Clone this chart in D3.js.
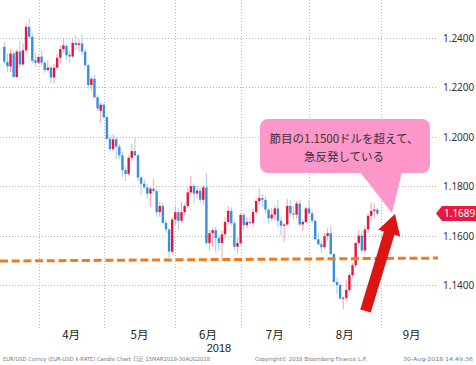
<!DOCTYPE html>
<html><head><meta charset="utf-8">
<script src="https://cdn.jsdelivr.net/npm/d3@7/dist/d3.min.js"></script>
<style>html,body{margin:0;padding:0;background:#fff;}svg{display:block;}</style>
</head><body>
<svg id="chart" width="476" height="365"></svg>
<script>
// ---------- data ----------
const firstDate = "2018-03-15";   // first candle (weekdays only)
const axisEndDate = "2018-09-30"; // calendar used for month gridlines
const open  = [1.2364,1.2303,1.2285,1.2337,1.2242,1.2345,1.2293,1.2350,1.2445,1.2405,1.2310,1.2300,
  1.2325,1.2300,1.2270,1.2280,1.2240,1.2280,1.2320,1.2355,1.2368,1.2332,1.2325,1.2380,1.2372,1.2378,1.2345,1.2290,1.2210,1.2235,1.2160,1.2105,1.2130,
  1.2080,1.1992,1.1950,1.1990,1.1960,1.1925,1.1865,1.1850,1.1915,1.1942,1.1925,1.1835,1.1810,1.1795,1.1770,1.1790,1.1780,1.1695,1.1720,1.1652,1.1625,1.1535,1.1665,
  1.1695,1.1660,1.1695,1.1720,1.1775,1.1800,1.1770,1.1782,1.1745,1.1795,1.1570,1.1610,1.1622,1.1590,1.1570,1.1605,1.1655,1.1700,1.1650,1.1555,1.1570,
  1.1684,1.1642,1.1655,1.1650,1.1695,1.1740,1.1752,1.1745,1.1705,1.1670,1.1685,1.1710,1.1660,1.1640,1.1645,1.1720,1.1690,1.1685,1.1730,1.1645,1.1655,1.1710,
  1.1690,1.1660,1.1585,1.1565,1.1553,1.1598,1.1610,1.1525,1.1412,1.1400,1.1345,1.1348,1.1380,1.1440,1.1480,1.1570,1.1600,1.1540,1.1625,1.1680,1.1700,1.1705];
const high  = [1.2385,1.2336,1.2355,1.2350,1.2355,1.2388,1.2380,1.2460,1.2478,1.2420,1.2340,1.2330,
  1.2350,1.2305,1.2310,1.2288,1.2295,1.2335,1.2370,1.2396,1.2375,1.2345,1.2395,1.2410,1.2395,1.2415,1.2355,1.2295,1.2245,1.2250,1.2170,1.2140,1.2135,
  1.2085,1.2010,1.2010,1.2000,1.1970,1.1940,1.1880,1.1925,1.1970,1.1995,1.1930,1.1840,1.1830,1.1810,1.1800,1.1830,1.1790,1.1735,1.1735,1.1665,1.1630,1.1675,1.1720,
  1.1710,1.1735,1.1730,1.1795,1.1840,1.1810,1.1800,1.1795,1.1805,1.1852,1.1625,1.1630,1.1635,1.1600,1.1620,1.1675,1.1720,1.1715,1.1660,1.1590,1.1690,
  1.1690,1.1675,1.1675,1.1710,1.1750,1.1791,1.1770,1.1760,1.1710,1.1710,1.1720,1.1745,1.1675,1.1650,1.1750,1.1745,1.1720,1.1740,1.1745,1.1665,1.1720,1.1745,
  1.1705,1.1665,1.1610,1.1580,1.1610,1.1630,1.1640,1.1530,1.1432,1.1410,1.1355,1.1420,1.1450,1.1490,1.1575,1.1623,1.1620,1.1640,1.1690,1.1733,1.1730,1.1712];
const low   = [1.2297,1.2262,1.2262,1.2240,1.2240,1.2280,1.2288,1.2345,1.2395,1.2298,1.2285,1.2295,
  1.2290,1.2258,1.2265,1.2218,1.2215,1.2270,1.2300,1.2340,1.2310,1.2300,1.2320,1.2350,1.2345,1.2330,1.2280,1.2195,1.2185,1.2155,1.2105,1.2055,1.2070,
  1.1985,1.1940,1.1940,1.1910,1.1910,1.1838,1.1822,1.1840,1.1900,1.1920,1.1820,1.1765,1.1790,1.1750,1.1717,1.1770,1.1676,1.1675,1.1645,1.1610,1.1510,1.1525,1.1640,
  1.1625,1.1650,1.1680,1.1710,1.1765,1.1730,1.1750,1.1730,1.1725,1.1562,1.1540,1.1555,1.1530,1.1540,1.1508,1.1590,1.1640,1.1640,1.1540,1.1527,1.1560,
  1.1620,1.1630,1.1640,1.1635,1.1685,1.1725,1.1715,1.1690,1.1650,1.1660,1.1665,1.1635,1.1600,1.1575,1.1640,1.1675,1.1665,1.1670,1.1640,1.1620,1.1650,1.1685,
  1.1650,1.1580,1.1560,1.1530,1.1545,1.1580,1.1525,1.1410,1.1365,1.1340,1.1301,1.1335,1.1370,1.1430,1.1470,1.1560,1.1530,1.1530,1.1610,1.1660,1.1670,1.1680];
const close = [1.2304,1.2285,1.2337,1.2242,1.2345,1.2293,1.2350,1.2445,1.2405,1.2308,1.2300,1.2323,
  1.2300,1.2270,1.2280,1.2240,1.2280,1.2320,1.2355,1.2370,1.2330,1.2325,1.2380,1.2372,1.2378,1.2345,1.2290,1.2210,1.2235,1.2160,1.2115,1.2130,1.2080,
  1.1992,1.1950,1.1990,1.1960,1.1925,1.1865,1.1850,1.1915,1.1942,1.1925,1.1835,1.1810,1.1795,1.1770,1.1790,1.1780,1.1695,1.1720,1.1652,1.1625,1.1535,1.1665,1.1695,
  1.1660,1.1695,1.1720,1.1775,1.1800,1.1770,1.1782,1.1745,1.1795,1.1570,1.1610,1.1622,1.1590,1.1570,1.1605,1.1655,1.1700,1.1650,1.1555,1.1570,1.1684,
  1.1642,1.1655,1.1650,1.1695,1.1740,1.1752,1.1745,1.1705,1.1670,1.1685,1.1710,1.1660,1.1640,1.1645,1.1720,1.1690,1.1685,1.1730,1.1645,1.1655,1.1710,1.1690,
  1.1660,1.1585,1.1565,1.1553,1.1598,1.1610,1.1525,1.1412,1.1400,1.1345,1.1348,1.1380,1.1440,1.1480,1.1570,1.1600,1.1540,1.1625,1.1680,1.1700,1.1705,1.1689];
const yTicks = [1.14, 1.16, 1.18, 1.20, 1.22, 1.24];
const monthLabels = ["4月","5月","6月","7月","8月","9月"];
const yearLabel = "2018";
const lastPrice = 1.1689;
const supportLevel = [1.1497, 1.1509];   // dashed line, start/end value
const calloutLines = ["節目の1.1500ドルを超えて、", "急反発している"];
const footerTexts = ["EUR/USD Curncy (EUR-USD X-RATE) Candle Chart  日足 15MAR2018-30AUG2018",
  "Copyright© 2018 Bloomberg Finance L.P.", "30-Aug-2018 14:49:36"];

// ---------- calendar ----------
const parse = d3.timeParse("%Y-%m-%d");
const weekdays = d3.timeDays(parse(firstDate), d3.timeDay.offset(parse(axisEndDate), 1))
  .filter(d => d.getDay() !== 0 && d.getDay() !== 6);
const N = open.length;
const candles = d3.range(N).map(i => ({i, date: weekdays[i], o: open[i], h: high[i], l: low[i], c: close[i]}));
// gridlines on the last weekday of each month
const monthEnds = [];
weekdays.forEach((d, i) => {
  const nx = weekdays[i + 1];
  if (!nx || nx.getMonth() !== d.getMonth()) monthEnds.push(i);
});

// ---------- scales ----------
const x = d3.scaleLinear().domain([0, N - 1]).range([4.3, 377.4]);
const y = d3.scaleLinear().domain([1.14, 1.24]).range([285, 38]);

const svg = d3.select("#chart");
const plotRight = 436, gridBottom = 328;

// grid
const grid = svg.append("g").attr("stroke", "#b4b4b4").attr("stroke-width", 1).attr("stroke-dasharray", "1,2");
grid.selectAll("line.h").data(yTicks).join("line").attr("class", "h")
  .attr("x1", 0).attr("x2", plotRight).attr("y1", d => Math.round(y(d)) + 0.5).attr("y2", d => Math.round(y(d)) + 0.5);
const gridIdx = monthEnds.slice(0, monthLabels.length);
grid.selectAll("line.v").data(gridIdx).join("line").attr("class", "v")
  .attr("x1", d => Math.round(x(d)) + 0.5).attr("x2", d => Math.round(x(d)) + 0.5).attr("y1", 0).attr("y2", gridBottom);

// y axis (right)
const yAxis = d3.axisRight(y).tickValues(yTicks).tickFormat(d3.format(".4f")).tickSize(0).tickPadding(0);
const ya = svg.append("g").attr("transform", `translate(443,0)`).call(yAxis);
ya.select(".domain").remove();
ya.selectAll("text").attr("font-family", "'Noto Sans', sans-serif").attr("font-size", 10).attr("fill", "#333").attr("dy", "0.35em");

// month labels, centred between the month-end gridlines
const monthCenters = monthLabels.map((m, k) => (x(monthEnds[k]) + x(monthEnds[k + 1])) / 2);
svg.append("g").selectAll("text").data(monthLabels).join("text")
  .attr("x", (d, k) => monthCenters[k]).attr("y", 338.5).attr("text-anchor", "middle")
  .attr("font-family", "'Noto Sans CJK JP', sans-serif").attr("font-size", 11.5).attr("fill", "#222").text(d => d);
svg.append("text").attr("x", 219).attr("y", 352).attr("text-anchor", "middle")
  .attr("font-family", "'Liberation Sans', sans-serif").attr("font-size", 11).attr("fill", "#222").text(yearLabel);

// candles
const upBody = "#e3173d", upWick = "#f3a0b1", dnBody = "#3b8de3", dnWick = "#a3cbf3";
const cg = svg.append("g");
cg.selectAll("line").data(candles).join("line")
  .attr("x1", d => x(d.i)).attr("x2", d => x(d.i))
  .attr("y1", d => y(d.h)).attr("y2", d => y(d.l))
  .attr("stroke", d => d.c >= d.o ? upWick : dnWick).attr("stroke-width", 1);
cg.selectAll("rect").data(candles).join("rect")
  .attr("x", d => x(d.i) - 1.2).attr("width", 2.4)
  .attr("y", d => y(Math.max(d.o, d.c)))
  .attr("height", d => Math.max(1, Math.abs(y(d.o) - y(d.c))))
  .attr("fill", d => d.c >= d.o ? upBody : dnBody);

// support dashed line
svg.append("line").attr("x1", 0).attr("x2", 438)
  .attr("y1", y(supportLevel[0])).attr("y2", y(supportLevel[1]))
  .attr("stroke", "#f07a1c").attr("stroke-width", 3).attr("stroke-dasharray", "8,3.7");

// callout
const pink = "#fd96c9";
svg.append("rect").attr("x", 260).attr("y", 119).attr("width", 170).attr("height", 54).attr("rx", 8).attr("fill", pink);
svg.append("path").attr("d", "M360,172 L402,172 L392,213 Z").attr("fill", pink);
svg.append("g").selectAll("text").data(calloutLines).join("text")
  .attr("x", 344).attr("y", (d, k) => 143 + k * 18).attr("text-anchor", "middle")
  .attr("font-family", "'Noto Sans CJK JP', sans-serif").attr("font-size", 11.5).attr("fill", "#333").text(d => d);

// red arrow
(function () {
  const T = [365.5, 311], P = [395, 214];
  const dx = P[0] - T[0], dy = P[1] - T[1], L = Math.hypot(dx, dy);
  const u = [dx / L, dy / L], n = [-u[1], u[0]];
  const hw = 5.5, hh = 11.5, hl = 20;
  const H = [P[0] - u[0] * hl, P[1] - u[1] * hl];
  const pt = (b, s) => [b[0] + n[0] * s, b[1] + n[1] * s];
  const pts = [pt(T, hw), pt(H, hw), pt(H, hh), P, pt(H, -hh), pt(H, -hw), pt(T, -hw)];
  svg.append("polygon").attr("points", pts.map(p => p.join(",")).join(" ")).attr("fill", "#dc1414");
})();

// last price tag
const yc = y(lastPrice);
svg.append("path").attr("d", `M436,${yc} L442,${yc - 7.5} L476,${yc - 7.5} L476,${yc + 7.5} L442,${yc + 7.5} Z`).attr("fill", "#e6193f");
svg.append("text").attr("x", 444).attr("y", yc + 3.6).attr("font-family", "'Noto Sans', sans-serif")
  .attr("font-size", 10).attr("fill", "#fff").text(d3.format(".4f")(lastPrice));

// footer
const fx = [3, 255, 403], fw = [207, 112, 70];
svg.append("g").selectAll("text").data(footerTexts).join("text")
  .attr("x", (d, k) => fx[k]).attr("y", 361).attr("textLength", (d, k) => fw[k]).attr("lengthAdjust", "spacingAndGlyphs")
  .attr("font-family", "'DejaVu Sans', sans-serif").attr("font-size", 5.5).attr("fill", "#777").text(d => d);
</script>
</body></html>
